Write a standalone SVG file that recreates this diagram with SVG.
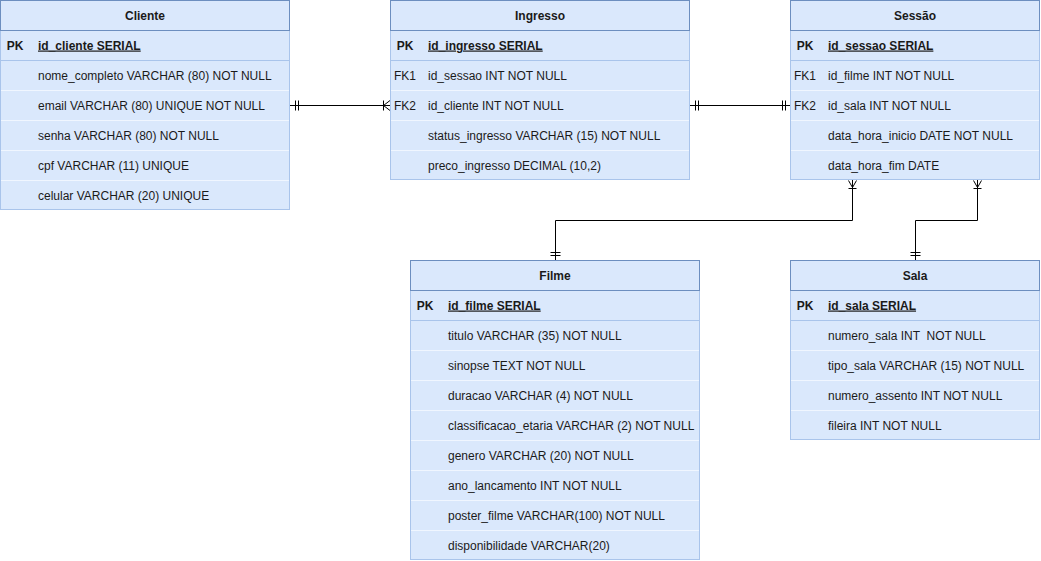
<svg xmlns="http://www.w3.org/2000/svg" width="1041" height="561" viewBox="0 0 1041 561">
<style>
text{font-family:"Liberation Sans",Arial,sans-serif;font-size:12px;fill:#1a1a1a}
.title{font-weight:bold;text-anchor:middle}
.key{text-anchor:middle}
.pk{font-weight:bold;text-decoration:underline}
.pkk{font-weight:bold}
.body{fill:#dae8fc;stroke:#a9c4eb;stroke-width:1}
.head{fill:#dae8fc;stroke:#6c8ebf;stroke-width:1}
.sep{stroke:#f0f6ff;stroke-width:1}
.pksep{stroke:#a9c4eb;stroke-width:1}
.conn{fill:none;stroke:#000;stroke-width:1}
</style>
<rect width="1041" height="561" fill="#ffffff"/>

<g id="cliente">
<rect class="body" x="0.5" y="30.5" width="289" height="179"/>
<rect class="head" x="0.5" y="0.5" width="289" height="30"/>
<line class="pksep" x1="0.5" y1="60.5" x2="289.5" y2="60.5"/>
<line class="sep" x1="1" y1="90.5" x2="289" y2="90.5"/>
<line class="sep" x1="1" y1="120.5" x2="289" y2="120.5"/>
<line class="sep" x1="1" y1="150.5" x2="289" y2="150.5"/>
<line class="sep" x1="1" y1="180.5" x2="289" y2="180.5"/>
<text class="title" x="145" y="19.5">Cliente</text>
<text class="key pkk" x="15" y="49.5">PK</text>
<text class="pk" x="38" y="49.5">id_cliente SERIAL</text>
<text x="38" y="79.5">nome_completo VARCHAR (80) NOT NULL</text>
<text x="38" y="109.5">email VARCHAR (80) UNIQUE NOT NULL</text>
<text x="38" y="139.5">senha VARCHAR (80) NOT NULL</text>
<text x="38" y="169.5">cpf VARCHAR (11) UNIQUE</text>
<text x="38" y="199.5">celular VARCHAR (20) UNIQUE</text>
</g>

<g id="ingresso">
<rect class="body" x="390.5" y="30.5" width="299" height="149"/>
<rect class="head" x="390.5" y="0.5" width="299" height="30"/>
<line class="pksep" x1="390.5" y1="60.5" x2="689.5" y2="60.5"/>
<line class="sep" x1="391" y1="90.5" x2="689" y2="90.5"/>
<line class="sep" x1="391" y1="120.5" x2="689" y2="120.5"/>
<line class="sep" x1="391" y1="150.5" x2="689" y2="150.5"/>
<text class="title" x="540" y="19.5">Ingresso</text>
<text class="key pkk" x="405" y="49.5">PK</text>
<text class="pk" x="428" y="49.5">id_ingresso SERIAL</text>
<text class="key" x="405" y="79.5">FK1</text>
<text x="428" y="79.5">id_sessao INT NOT NULL</text>
<text class="key" x="405" y="109.5">FK2</text>
<text x="428" y="109.5">id_cliente INT NOT NULL</text>
<text x="428" y="139.5">status_ingresso VARCHAR (15) NOT NULL</text>
<text x="428" y="169.5">preco_ingresso DECIMAL (10,2)</text>
</g>

<g id="sessao">
<rect class="body" x="790.5" y="30.5" width="249" height="149"/>
<rect class="head" x="790.5" y="0.5" width="249" height="30"/>
<line class="pksep" x1="790.5" y1="60.5" x2="1039.5" y2="60.5"/>
<line class="sep" x1="791" y1="90.5" x2="1039" y2="90.5"/>
<line class="sep" x1="791" y1="120.5" x2="1039" y2="120.5"/>
<line class="sep" x1="791" y1="150.5" x2="1039" y2="150.5"/>
<text class="title" x="915" y="19.5">Sessão</text>
<text class="key pkk" x="805" y="49.5">PK</text>
<text class="pk" x="828" y="49.5">id_sessao SERIAL</text>
<text class="key" x="805" y="79.5">FK1</text>
<text x="828" y="79.5">id_filme INT NOT NULL</text>
<text class="key" x="805" y="109.5">FK2</text>
<text x="828" y="109.5">id_sala INT NOT NULL</text>
<text x="828" y="139.5">data_hora_inicio DATE NOT NULL</text>
<text x="828" y="169.5">data_hora_fim DATE</text>
</g>

<g id="filme">
<rect class="body" x="410.5" y="290.5" width="289" height="269"/>
<rect class="head" x="410.5" y="260.5" width="289" height="30"/>
<line class="pksep" x1="410.5" y1="320.5" x2="699.5" y2="320.5"/>
<line class="sep" x1="411" y1="350.5" x2="699" y2="350.5"/>
<line class="sep" x1="411" y1="380.5" x2="699" y2="380.5"/>
<line class="sep" x1="411" y1="410.5" x2="699" y2="410.5"/>
<line class="sep" x1="411" y1="440.5" x2="699" y2="440.5"/>
<line class="sep" x1="411" y1="470.5" x2="699" y2="470.5"/>
<line class="sep" x1="411" y1="500.5" x2="699" y2="500.5"/>
<line class="sep" x1="411" y1="530.5" x2="699" y2="530.5"/>
<text class="title" x="555" y="279.5">Filme</text>
<text class="key pkk" x="425" y="309.5">PK</text>
<text class="pk" x="448" y="309.5">id_filme SERIAL</text>
<text x="448" y="339.5">titulo VARCHAR (35) NOT NULL</text>
<text x="448" y="369.5">sinopse TEXT NOT NULL</text>
<text x="448" y="399.5">duracao VARCHAR (4) NOT NULL</text>
<text x="448" y="429.5">classificacao_etaria VARCHAR (2) NOT NULL</text>
<text x="448" y="459.5">genero VARCHAR (20) NOT NULL</text>
<text x="448" y="489.5">ano_lancamento INT NOT NULL</text>
<text x="448" y="519.5">poster_filme VARCHAR(100) NOT NULL</text>
<text x="448" y="549.5">disponibilidade VARCHAR(20)</text>
</g>

<g id="sala">
<rect class="body" x="790.5" y="290.5" width="249" height="149"/>
<rect class="head" x="790.5" y="260.5" width="249" height="30"/>
<line class="pksep" x1="790.5" y1="320.5" x2="1039.5" y2="320.5"/>
<line class="sep" x1="791" y1="350.5" x2="1039" y2="350.5"/>
<line class="sep" x1="791" y1="380.5" x2="1039" y2="380.5"/>
<line class="sep" x1="791" y1="410.5" x2="1039" y2="410.5"/>
<text class="title" x="915" y="279.5">Sala</text>
<text class="key pkk" x="805" y="309.5">PK</text>
<text class="pk" x="828" y="309.5">id_sala SERIAL</text>
<text x="828" y="339.5" xml:space="preserve">numero_sala INT  NOT NULL</text>
<text x="828" y="369.5">tipo_sala VARCHAR (15) NOT NULL</text>
<text x="828" y="399.5">numero_assento INT NOT NULL</text>
<text x="828" y="429.5">fileira INT NOT NULL</text>
</g>

<g id="connectors">
<!-- Cliente - Ingresso -->
<path class="conn" d="M290,105.5 H390"/>
<path class="conn" d="M295.5,100.5 V110.5 M298.5,100.5 V110.5"/>
<path class="conn" d="M383.5,100.5 V110.5 M383.5,105.5 L390,100.5 M383.5,105.5 L390,110.5"/>
<!-- Ingresso - Sessao -->
<path class="conn" d="M690,105.5 H790"/>
<path class="conn" d="M695.5,100.5 V110.5 M698.5,100.5 V110.5"/>
<path class="conn" d="M782.5,100.5 V110.5 M785.5,100.5 V110.5"/>
<!-- Sessao - Filme -->
<path class="conn" d="M852.5,180 V220.5 H555.5 V260"/>
<path class="conn" d="M848.5,188.5 H856.5 M848.5,180.5 L852.5,187.5 L856.5,180.5"/>
<path class="conn" d="M550.5,252.5 H560.5 M550.5,255.5 H560.5"/>
<!-- Sessao - Sala -->
<path class="conn" d="M977.5,180 V220.5 H915.5 V260"/>
<path class="conn" d="M973.5,188.5 H981.5 M973.5,180.5 L977.5,187.5 L981.5,180.5"/>
<path class="conn" d="M910.5,252.5 H920.5 M910.5,255.5 H920.5"/>
</g>
</svg>
